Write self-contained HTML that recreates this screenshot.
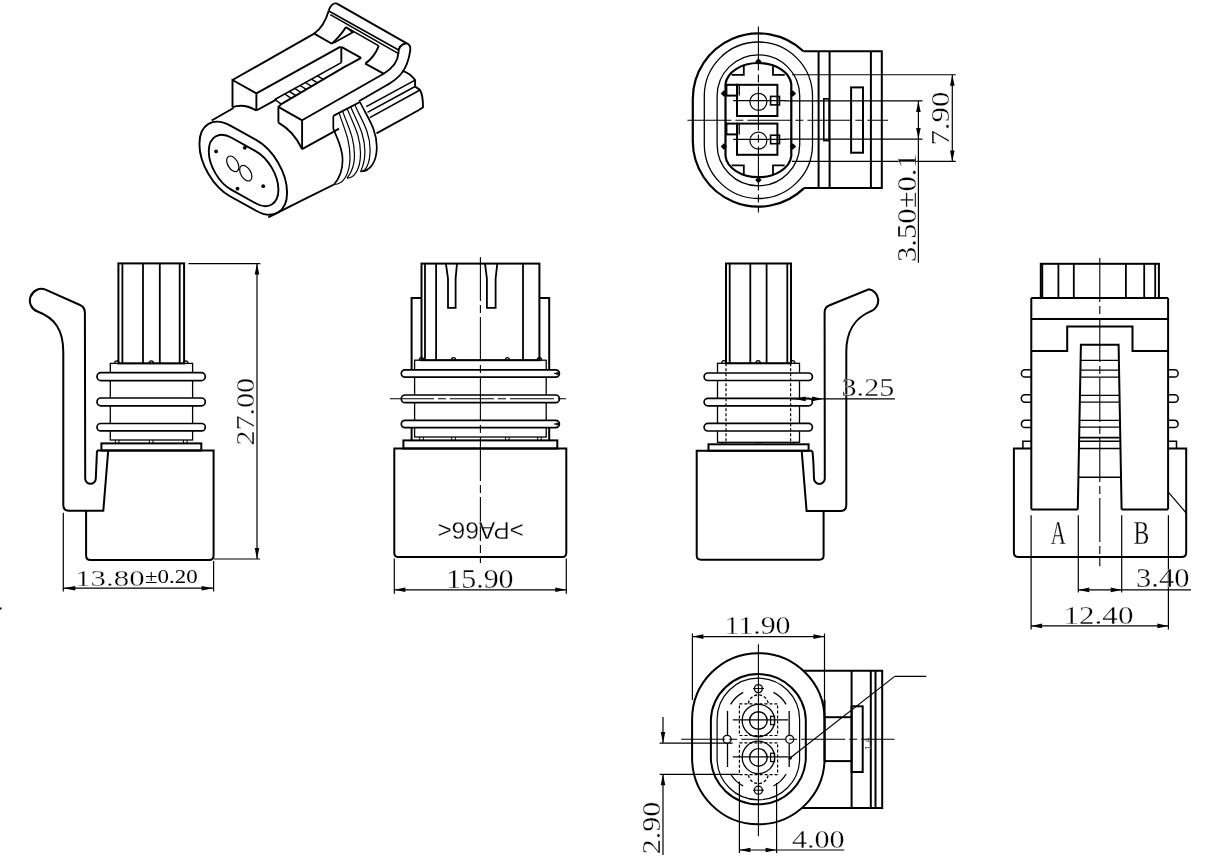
<!DOCTYPE html>
<html><head><meta charset="utf-8"><style>
html,body{margin:0;padding:0;background:#fff;}
svg{display:block;}
svg line, svg polyline, svg polygon, svg path, svg rect, svg circle, svg ellipse {stroke:#000;fill:none;stroke-linejoin:miter;stroke-miterlimit:4;stroke-linecap:butt;}
svg text{fill:#000;stroke:#fff;stroke-width:0.3px;}
svg{will-change:transform;}
svg .f{fill:#000;stroke:none;}
</style></head><body>
<svg width="1227" height="863" viewBox="0 0 1227 863">
<path d="M 84.9 313 Q 84.9 307 80 305 L 45.5 289.6 A 11.5 11.5 0 0 0 37.5 311.5 C 55 318 63.3 330 63.3 352 L 63.3 505 Q 63.3 510.8 69 510.8 L 103.3 510.8 L 108.2 450.6" stroke-width="2" />
<path d="M 84.9 313 L 85.2 478.5 A 5.3 5.3 0 0 0 95.8 478.5 L 97 450.6" stroke-width="2" />
<rect x="118.4" y="263.4" width="65.7" height="100" stroke-width="2" />
<line x1="122.4" y1="263.4" x2="122.4" y2="363.4" stroke-width="1.8" />
<line x1="143" y1="263.4" x2="143" y2="363.4" stroke-width="1.8" />
<line x1="159.8" y1="263.4" x2="159.8" y2="363.4" stroke-width="1.8" />
<line x1="179.7" y1="263.4" x2="179.7" y2="363.4" stroke-width="1.8" />
<path d="M 114.6 363.4 A 2.2 2.6 0 0 1 119 363.4" stroke-width="1.2" />
<path d="M 149.1 363.4 A 2.2 2.6 0 0 1 153.5 363.4" stroke-width="1.2" />
<path d="M 183.5 363.4 A 2.2 2.6 0 0 1 187.9 363.4" stroke-width="1.2" />
<rect x="110.3" y="363.4" width="82.3" height="76.6" stroke-width="1.3" />
<rect x="97" y="372.7" width="108.3" height="7.9" rx="4" stroke-width="1.7" style="fill:#fff"/>
<rect x="97" y="398" width="108.3" height="7.8" rx="3.9" stroke-width="1.7" style="fill:#fff"/>
<rect x="97" y="423.5" width="108.3" height="7.4" rx="3.7" stroke-width="1.7" style="fill:#fff"/>
<path d="M 115.2 440 L 115.7 443.4 M 119.2 440 L 118.7 443.4" stroke-width="1" />
<path d="M 149.2 440 L 149.7 443.4 M 153.2 440 L 152.7 443.4" stroke-width="1" />
<path d="M 183.3 440 L 183.8 443.4 M 187.3 440 L 186.8 443.4" stroke-width="1" />
<rect x="101.4" y="443.4" width="99.9" height="7.1" stroke-width="2" />
<path d="M 97 450.5 L 213.6 450.5 L 213.6 555.5 Q 213.6 560 209 560 L 90.5 560 Q 86.1 560 86.1 555.5 L 86.1 510.8" stroke-width="2" />
<line x1="63.3" y1="512.7" x2="63.3" y2="591.5" stroke-width="1.2" />
<line x1="213.6" y1="561" x2="213.6" y2="591.5" stroke-width="1.2" />
<line x1="63.3" y1="588.2" x2="213.6" y2="588.2" stroke-width="1.2" />
<polygon points="63.3,588.2 75.3,586 75.3,590.4" class="f"/>
<polygon points="213.6,588.2 201.6,590.4 201.6,586" class="f"/>
<line x1="188.5" y1="263.6" x2="260.3" y2="263.6" stroke-width="1.2" />
<line x1="214" y1="559" x2="260" y2="559" stroke-width="1.2" />
<line x1="257" y1="263.6" x2="257" y2="559" stroke-width="1.2" />
<polygon points="257,263.6 259.3,274.6 254.7,274.6" class="f"/>
<polygon points="257,559 254.7,548 259.3,548" class="f"/>
<rect x="421.5" y="263.6" width="117.9" height="96.6" stroke-width="2" />
<line x1="425" y1="263.6" x2="425" y2="360.2" stroke-width="1.8" />
<line x1="436.1" y1="263.6" x2="436.1" y2="360.2" stroke-width="1.8" />
<line x1="523" y1="263.6" x2="523" y2="360.2" stroke-width="1.8" />
<polyline points="445.9,263.6 448,278.6 448,307.8 455.6,307.8 455.6,278.6 457,263.6" stroke-width="1.8" />
<polyline points="485,263.6 486.9,278.6 486.9,307.8 495.6,307.8 495.6,278.6 497.3,263.6" stroke-width="1.8" />
<polyline points="421.5,298.1 411.6,298.1 411.6,371" stroke-width="2" />
<polyline points="539.4,298.1 549.2,298.1 549.2,371" stroke-width="2" />
<line x1="411.6" y1="426" x2="411.6" y2="440.4" stroke-width="2" />
<line x1="549.2" y1="426" x2="549.2" y2="440.4" stroke-width="2" />
<rect x="414.6" y="360.2" width="131.6" height="76.8" stroke-width="1.3" />
<path d="M 419.3 360.2 A 2.2 2.6 0 0 1 423.7 360.2" stroke-width="1.2" />
<path d="M 451.3 360.2 A 2.2 2.6 0 0 1 455.7 360.2" stroke-width="1.2" />
<path d="M 505.1 360.2 A 2.2 2.6 0 0 1 509.5 360.2" stroke-width="1.2" />
<path d="M 537.2 360.2 A 2.2 2.6 0 0 1 541.6 360.2" stroke-width="1.2" />
<path d="M 419.5 437 L 420 440.4 M 423.5 437 L 423 440.4" stroke-width="1" />
<path d="M 451.5 437 L 452 440.4 M 455.5 437 L 455 440.4" stroke-width="1" />
<path d="M 505.3 437 L 505.8 440.4 M 509.3 437 L 508.8 440.4" stroke-width="1" />
<path d="M 537.4 437 L 537.9 440.4 M 541.4 437 L 540.9 440.4" stroke-width="1" />
<rect x="401.3" y="369.8" width="158.1" height="7.3" rx="3.7" stroke-width="1.7" style="fill:#fff"/>
<rect x="401.3" y="395" width="158.1" height="7.7" rx="3.8" stroke-width="1.7" style="fill:#fff"/>
<rect x="401.3" y="420.3" width="158.1" height="7.3" rx="3.7" stroke-width="1.7" style="fill:#fff"/>
<line x1="554" y1="373.5" x2="560" y2="373.5" stroke-width="1.2" />
<polygon points="560.5,373.5 556.5,375.3 556.5,371.7" class="f"/>
<line x1="554" y1="424" x2="560" y2="424" stroke-width="1.2" />
<polygon points="560.5,424 556.5,425.8 556.5,422.2" class="f"/>
<rect x="403.4" y="440.4" width="153.9" height="8.1" stroke-width="2" />
<path d="M 394.3 448.5 L 566.3 448.5 L 566.3 553 Q 566.3 557.1 562 557.1 L 398.5 557.1 Q 394.3 557.1 394.3 553 Z" stroke-width="2" />
<line x1="480.4" y1="257" x2="480.4" y2="563" stroke-width="1.1" stroke-dasharray="44 4 8 4"/>
<line x1="389.9" y1="398.8" x2="569.2" y2="398.8" stroke-width="1.1" stroke-dasharray="44 4 8 4"/>
<line x1="394.3" y1="558.6" x2="394.3" y2="593.8" stroke-width="1.2" />
<line x1="566.3" y1="558.6" x2="566.3" y2="593.8" stroke-width="1.2" />
<line x1="394.3" y1="589.8" x2="566.3" y2="589.8" stroke-width="1.2" />
<polygon points="394.3,589.8 405.3,587.5 405.3,592.1" class="f"/>
<polygon points="566.3,589.8 555.3,592.1 555.3,587.5" class="f"/>
<rect x="726" y="263.5" width="65" height="99.8" stroke-width="2" />
<line x1="729.7" y1="263.5" x2="729.7" y2="363.3" stroke-width="1.8" />
<line x1="750.3" y1="263.5" x2="750.3" y2="363.3" stroke-width="1.8" />
<line x1="766.6" y1="263.5" x2="766.6" y2="363.3" stroke-width="1.8" />
<line x1="787.3" y1="263.5" x2="787.3" y2="363.3" stroke-width="1.8" />
<path d="M 721.8 363.3 A 2.2 2.6 0 0 1 726.2 363.3" stroke-width="1.2" />
<path d="M 755.9 363.3 A 2.2 2.6 0 0 1 760.3 363.3" stroke-width="1.2" />
<path d="M 790.5 363.3 A 2.2 2.6 0 0 1 794.9 363.3" stroke-width="1.2" />
<rect x="717.5" y="363.3" width="82" height="79" stroke-width="1.3" />
<rect x="704.1" y="373" width="108.3" height="7.5" rx="3.8" stroke-width="1.7" style="fill:#fff"/>
<rect x="704.1" y="398.4" width="108.3" height="7.4" rx="3.7" stroke-width="1.7" style="fill:#fff"/>
<rect x="704.1" y="423.4" width="108.3" height="7.6" rx="3.8" stroke-width="1.7" style="fill:#fff"/>
<line x1="726" y1="363.3" x2="726" y2="442.3" stroke-width="1.2" stroke-dasharray="3 2"/>
<line x1="790.6" y1="363.3" x2="790.6" y2="442.3" stroke-width="1.2" stroke-dasharray="3 2"/>
<path d="M 721.9 442.3 L 722.4 444.3 M 725.9 442.3 L 725.4 444.3" stroke-width="1" />
<path d="M 756.3 442.3 L 756.8 444.3 M 760.3 442.3 L 759.8 444.3" stroke-width="1" />
<path d="M 790.3 442.3 L 790.8 444.3 M 794.3 442.3 L 793.8 444.3" stroke-width="1" />
<rect x="708.5" y="444.3" width="100.1" height="6.5" stroke-width="2" />
<path d="M 812.3 450.8 L 696.7 450.8 L 696.7 555.5 Q 696.7 559.7 701 559.7 L 819.5 559.7 Q 823.6 559.7 823.6 555.5 L 823.6 511" stroke-width="2" />
<path d="M 824.6 313 Q 824.6 307 829 305.5 L 868.8 289.2 A 11.5 11.5 0 0 1 871 311.2 C 855 318 846.3 330 846.3 352 L 846.3 505 Q 846.3 511 840.5 511 L 806.6 511 L 801.7 450.8" stroke-width="2" />
<path d="M 824.6 313 L 824.8 478.5 A 5.4 5.4 0 0 1 814 478.5 L 813.5 465 Q 813 455 812.3 450.8" stroke-width="2" />
<line x1="790.8" y1="398.9" x2="894.9" y2="398.9" stroke-width="1.2" />
<polygon points="794.7,398.9 805.7,396.6 805.7,401.2" class="f"/>
<polygon points="823,398.9 812,401.2 812,396.6" class="f"/>
<rect x="1040.8" y="263.8" width="118.1" height="34.2" stroke-width="2" />
<line x1="1042.3" y1="263.8" x2="1042.3" y2="298" stroke-width="1.8" />
<line x1="1058.4" y1="263.8" x2="1058.4" y2="298" stroke-width="1.8" />
<line x1="1073.8" y1="263.8" x2="1073.8" y2="298" stroke-width="1.8" />
<line x1="1125.9" y1="263.8" x2="1125.9" y2="298" stroke-width="1.8" />
<line x1="1144.2" y1="263.8" x2="1144.2" y2="298" stroke-width="1.8" />
<line x1="1155.2" y1="263.8" x2="1155.2" y2="298" stroke-width="1.8" />
<line x1="1031.3" y1="298" x2="1168.1" y2="298" stroke-width="2" />
<line x1="1031.3" y1="298" x2="1031.3" y2="509.4" stroke-width="2" />
<line x1="1168.1" y1="298" x2="1168.1" y2="509.4" stroke-width="2" />
<line x1="1031.3" y1="319.1" x2="1168.1" y2="319.1" stroke-width="2" />
<polyline points="1031.3,351.1 1067.2,351.1 1067.2,326.4 1132.5,326.4 1132.5,351.1 1168.1,351.1" stroke-width="2" />
<polyline points="1077.8,509.4 1080.9,344.8 1118.6,344.8 1121.6,509.4" stroke-width="2" />
<line x1="1080.6" y1="360.4" x2="1118.9" y2="360.4" stroke-width="1.3" />
<line x1="1080.4" y1="370.2" x2="1119.1" y2="370.2" stroke-width="1.3" />
<line x1="1080.3" y1="377.1" x2="1119.2" y2="377.1" stroke-width="1.3" />
<line x1="1079.9" y1="395.3" x2="1119.5" y2="395.3" stroke-width="1.3" />
<line x1="1079.8" y1="402.2" x2="1119.6" y2="402.2" stroke-width="1.3" />
<line x1="1079.5" y1="420.3" x2="1120" y2="420.3" stroke-width="1.3" />
<line x1="1079.3" y1="427.2" x2="1120.1" y2="427.2" stroke-width="1.3" />
<line x1="1079.2" y1="437.6" x2="1120.3" y2="437.6" stroke-width="1.6" />
<line x1="1079.1" y1="441.2" x2="1120.4" y2="441.2" stroke-width="1.6" />
<line x1="1078.9" y1="448.5" x2="1120.5" y2="448.5" stroke-width="1.6" />
<line x1="1078.4" y1="477.3" x2="1121" y2="477.3" stroke-width="1.6" />
<line x1="1031.3" y1="509.4" x2="1077.8" y2="509.4" stroke-width="2" />
<line x1="1121.6" y1="509.4" x2="1168.1" y2="509.4" stroke-width="2" />
<path d="M 1031.3 369.8 L 1025 369.8 A 3.6 3.6 0 0 0 1025 377.1 L 1031.3 377.1" stroke-width="1.5" />
<path d="M 1168.1 369.8 L 1174.5 369.8 A 3.6 3.6 0 0 1 1174.5 377.1 L 1168.1 377.1" stroke-width="1.5" />
<path d="M 1031.3 394.8 L 1025 394.8 A 3.6 3.6 0 0 0 1025 402.2 L 1031.3 402.2" stroke-width="1.5" />
<path d="M 1168.1 394.8 L 1174.5 394.8 A 3.6 3.6 0 0 1 1174.5 402.2 L 1168.1 402.2" stroke-width="1.5" />
<path d="M 1031.3 420.3 L 1025 420.3 A 3.6 3.6 0 0 0 1025 427.5 L 1031.3 427.5" stroke-width="1.5" />
<path d="M 1168.1 420.3 L 1174.5 420.3 A 3.6 3.6 0 0 1 1174.5 427.5 L 1168.1 427.5" stroke-width="1.5" />
<polyline points="1031.3,441.2 1022.9,441.2 1022.9,448.5" stroke-width="1.5" />
<polyline points="1168.1,441.2 1176.5,441.2 1176.5,448.5" stroke-width="1.5" />
<path d="M 1031.3 448.4 L 1013.9 448.4 L 1013.9 552.5 Q 1013.9 557 1018.5 557 L 1181.5 557 Q 1186.2 557 1186.2 552.5 L 1186.2 448.4 L 1168.1 448.4" stroke-width="2" />
<line x1="1168.5" y1="492.3" x2="1186.2" y2="513" stroke-width="1.2" />
<line x1="1099.8" y1="258" x2="1099.8" y2="566.3" stroke-width="1.1" stroke-dasharray="44 4 8 4"/>
<line x1="1031.1" y1="515.2" x2="1031.1" y2="629.5" stroke-width="1.2" />
<line x1="1078.3" y1="515.2" x2="1078.3" y2="592.5" stroke-width="1.2" />
<line x1="1121.7" y1="515.2" x2="1121.7" y2="592.5" stroke-width="1.2" />
<line x1="1168.4" y1="515.2" x2="1168.4" y2="629.5" stroke-width="1.2" />
<line x1="1078.3" y1="589.9" x2="1191" y2="589.9" stroke-width="1.2" />
<polygon points="1078.3,589.9 1089.3,587.6 1089.3,592.2" class="f"/>
<polygon points="1121.7,589.9 1110.7,592.2 1110.7,587.6" class="f"/>
<line x1="1031.1" y1="625.9" x2="1168.4" y2="625.9" stroke-width="1.2" />
<polygon points="1031.1,625.9 1042.1,623.6 1042.1,628.2" class="f"/>
<polygon points="1168.4,625.9 1157.4,628.2 1157.4,623.6" class="f"/>
<path d="M 803.4 51.3 A 65.6 65.6 0 0 0 692.8 99 L 692.8 141 A 65.6 65.6 0 0 0 804.1 188.1" stroke-width="2.2" />
<path d="M 704.3 96.1 A 54.1 54.1 0 0 1 812.5 96.1 L 812.5 144.4 A 54.1 54.1 0 0 1 704.3 144.4 Z" stroke-width="1.3" />
<path d="M 717.1 96.1 A 41.3 41.3 0 0 1 799.7 96.1 L 799.7 144.5 A 41.3 41.3 0 0 1 717.1 144.5 Z" stroke-width="1.3" />
<path d="M 725.5 84.2 A 33 23 0 0 1 791.3 84.2 L 791.3 156 A 33 23 0 0 1 725.5 156 Z" stroke-width="2.2" />
<polyline points="743.8,64.7 743.8,74.9 731.6,74.9" stroke-width="1.8" />
<polyline points="773,64.7 773,74.9 784.7,74.9" stroke-width="1.8" />
<polyline points="743.8,175.5 743.8,165.3 731.6,165.3" stroke-width="1.8" />
<polyline points="773,175.5 773,165.3 784.7,165.3" stroke-width="1.8" />
<rect x="737" y="84.8" width="40.4" height="31.2" stroke-width="2" />
<rect x="726.4" y="84.8" width="10.8" height="10.8" stroke-width="2" />
<line x1="739.3" y1="84.8" x2="739.3" y2="95.6" stroke-width="1.2" />
<circle cx="758.4" cy="101.8" r="8.5" stroke-width="1.2" />
<rect x="770.6" y="96.4" width="8.9" height="8.5" stroke-width="1.6" />
<line x1="733.2" y1="100.6" x2="785.6" y2="100.6" stroke-width="1.2" />
<rect x="737" y="123.6" width="40.4" height="31.2" stroke-width="2" />
<rect x="726.4" y="123.6" width="10.8" height="10.8" stroke-width="2" />
<line x1="739.3" y1="123.6" x2="739.3" y2="134.4" stroke-width="1.2" />
<circle cx="758.4" cy="140.6" r="8.5" stroke-width="1.2" />
<rect x="770.6" y="135.2" width="8.9" height="8.5" stroke-width="1.6" />
<line x1="733.2" y1="139.4" x2="785.6" y2="139.4" stroke-width="1.2" />
<polygon points="758.4,58.3 761.6,61.5 758.4,64.7 755.2,61.5" class="f"/>
<polygon points="758.4,176.8 761.6,180 758.4,183.2 755.2,180" class="f"/>
<polygon points="723.9,90.3 727.1,93.5 723.9,96.7 720.7,93.5" class="f"/>
<polygon points="792.9,90.3 796.1,93.5 792.9,96.7 789.7,93.5" class="f"/>
<polygon points="723.9,143.3 727.1,146.5 723.9,149.7 720.7,146.5" class="f"/>
<polygon points="792.9,143.3 796.1,146.5 792.9,149.7 789.7,146.5" class="f"/>
<line x1="758.4" y1="26.5" x2="758.4" y2="212.4" stroke-width="1.1" stroke-dasharray="44 4 8 4"/>
<line x1="687.4" y1="120.2" x2="888" y2="120.2" stroke-width="1.1" stroke-dasharray="44 4 8 4"/>
<polyline points="803.4,51.3 881.8,51.3 881.8,188.1 804.1,188.1" stroke-width="2" />
<line x1="818.6" y1="51.3" x2="818.6" y2="188.1" stroke-width="2" />
<line x1="829.6" y1="51.3" x2="829.6" y2="188.1" stroke-width="2" />
<line x1="870.9" y1="51.3" x2="870.9" y2="188.1" stroke-width="2" />
<rect x="823.8" y="98.8" width="5.4" height="41.8" stroke-width="1.6" />
<rect x="851.1" y="87.4" width="11.9" height="65.3" stroke-width="2" />
<line x1="792" y1="74.8" x2="955.8" y2="74.8" stroke-width="1.1" />
<line x1="792" y1="161.4" x2="955.8" y2="161.4" stroke-width="1.1" />
<line x1="785" y1="100.9" x2="922.5" y2="100.9" stroke-width="1.1" />
<line x1="785" y1="139.1" x2="922.5" y2="139.1" stroke-width="1.1" />
<line x1="952.3" y1="74.8" x2="952.3" y2="161.4" stroke-width="1.2" />
<polygon points="952.3,74.8 954.6,85.8 950,85.8" class="f"/>
<polygon points="952.3,161.4 950,150.4 954.6,150.4" class="f"/>
<line x1="918.4" y1="100.9" x2="918.4" y2="262.7" stroke-width="1.2" />
<polygon points="918.4,100.9 920.7,111.9 916.1,111.9" class="f"/>
<polygon points="918.4,139.1 916.1,128.1 920.7,128.1" class="f"/>
<path d="M 692.1 719.4 A 66.2 66.2 0 0 1 824.6 719.4 L 824.6 758 A 66.2 66.2 0 0 1 692.1 758 Z" stroke-width="2.0" />
<path d="M 710.9 719.4 A 47.5 47.5 0 0 1 805.8 719.4 L 805.8 759 A 47.5 47.5 0 0 1 710.9 759 Z" stroke-width="2.0" />
<path d="M 717.1 719.4 A 41.2 41.2 0 0 1 799.6 719.4 L 799.6 758.6 A 41.2 41.2 0 0 1 717.1 758.6 Z" stroke-width="1.2" />
<path d="M 730.6 704.4 A 31 31 0 0 1 743.2 692.4" stroke-width="1.3" />
<path d="M 773.5 692.4 A 31 31 0 0 1 786.1 704.4" stroke-width="1.3" />
<path d="M 730.6 774 A 31 31 0 0 0 743.2 786" stroke-width="1.3" />
<path d="M 773.5 786 A 31 31 0 0 0 786.1 774" stroke-width="1.3" />
<line x1="727.5" y1="711" x2="727.5" y2="735" stroke-width="1.3" />
<line x1="727.5" y1="744" x2="727.5" y2="767" stroke-width="1.3" />
<line x1="789.2" y1="711" x2="789.2" y2="735" stroke-width="1.3" />
<line x1="789.2" y1="744" x2="789.2" y2="767" stroke-width="1.3" />
<path d="M 748.4 703.5 A 10 10 0 0 1 768.2 703.5" stroke-width="1.3" stroke-dasharray="3 2"/>
<path d="M 748.4 775 A 10 10 0 0 0 768.2 775" stroke-width="1.3" stroke-dasharray="3 2"/>
<circle cx="758.4" cy="688.6" r="4" stroke-width="1.3" />
<circle cx="758.4" cy="790.2" r="4" stroke-width="1.3" />
<circle cx="727.1" cy="739.3" r="4" stroke-width="1.3" />
<circle cx="789.7" cy="739.3" r="4" stroke-width="1.3" />
<line x1="753" y1="688.6" x2="764" y2="688.6" stroke-width="1" />
<line x1="753" y1="790.2" x2="764" y2="790.2" stroke-width="1" />
<circle cx="758.4" cy="720.5" r="16.2" stroke-width="1.3" />
<circle cx="758.4" cy="720.5" r="8.8" stroke-width="1.4" />
<rect x="770.6" y="716.3" width="4" height="8.4" stroke-width="1.2" />
<line x1="732.8" y1="719.9" x2="788" y2="719.9" stroke-width="1.2" />
<circle cx="758.4" cy="757.4" r="16.2" stroke-width="1.3" />
<circle cx="758.4" cy="757.4" r="8.8" stroke-width="1.4" />
<rect x="770.6" y="753.2" width="4" height="8.4" stroke-width="1.2" />
<line x1="732.8" y1="756.8" x2="788" y2="756.8" stroke-width="1.2" />
<rect x="739.4" y="703.8" width="38.2" height="31.7" stroke-width="1.2" stroke-dasharray="3 2"/>
<rect x="739.4" y="742.8" width="38.2" height="31.8" stroke-width="1.2" stroke-dasharray="3 2"/>
<line x1="758.4" y1="644.2" x2="758.4" y2="836.3" stroke-width="1.1" />
<line x1="681.2" y1="739.3" x2="894.6" y2="739.3" stroke-width="1.1" stroke-dasharray="44 4 8 4"/>
<polyline points="803.3,670.7 882.2,670.7 882.2,808 801.8,808" stroke-width="2" />
<line x1="851.6" y1="670.7" x2="851.6" y2="808" stroke-width="2" />
<line x1="870.8" y1="670.7" x2="870.8" y2="808" stroke-width="2" />
<line x1="875.5" y1="670.7" x2="875.5" y2="808" stroke-width="2" />
<polyline points="824.5,717.2 851.6,717.2" stroke-width="2" />
<polyline points="824.5,761.1 851.6,761.1" stroke-width="2" />
<line x1="824.5" y1="700" x2="824.5" y2="761.1" stroke-width="2" />
<rect x="851.6" y="706.3" width="11.1" height="65.7" stroke-width="2" />
<line x1="790.1" y1="758" x2="894.7" y2="676.4" stroke-width="1.2" />
<line x1="894.7" y1="676.4" x2="926.2" y2="676.4" stroke-width="1.2" />
<circle cx="790.1" cy="758" r="1.8" class="f"/>
<line x1="692.4" y1="633.5" x2="692.4" y2="700" stroke-width="1.2" />
<line x1="824.5" y1="633.5" x2="824.5" y2="718" stroke-width="1.2" />
<line x1="692.4" y1="636.6" x2="824.5" y2="636.6" stroke-width="1.2" />
<polygon points="692.4,636.6 703.4,634.3 703.4,638.9" class="f"/>
<polygon points="824.5,636.6 813.5,638.9 813.5,634.3" class="f"/>
<line x1="659.6" y1="743.1" x2="732.7" y2="743.1" stroke-width="1.2" />
<line x1="659.6" y1="774.3" x2="739.4" y2="774.3" stroke-width="1.2" />
<line x1="663" y1="717" x2="663" y2="743.1" stroke-width="1.2" />
<polygon points="663,743.1 660.7,732.1 665.3,732.1" class="f"/>
<line x1="663" y1="774.3" x2="663" y2="855" stroke-width="1.2" />
<polygon points="663,774.3 665.3,785.3 660.7,785.3" class="f"/>
<line x1="739.4" y1="781.4" x2="739.4" y2="853" stroke-width="1.2" />
<line x1="776.6" y1="783" x2="776.6" y2="853" stroke-width="1.2" />
<line x1="739.4" y1="850" x2="844.3" y2="850" stroke-width="1.2" />
<polygon points="739.4,850 750.4,847.7 750.4,852.3" class="f"/>
<polygon points="776.6,850 765.6,852.3 765.6,847.7" class="f"/>
<rect x="0" y="607.5" width="1.5" height="2" class="f"/>
<text x="870.5" y="750" font-family="Liberation Sans" font-size="9" transform="rotate(-90 870.5 750)" style="fill:#444;stroke:none">1  A</text>
<text x="75.20" y="585.60" font-family="Liberation Serif" font-size="23.95" textLength="69.40" lengthAdjust="spacingAndGlyphs">13.80</text>
<text x="145.00" y="583.00" font-family="Liberation Serif" font-size="18.13" textLength="52.60" lengthAdjust="spacingAndGlyphs" style="stroke:none">±0.20</text>
<text x="254.20" y="445.60" font-family="Liberation Serif" font-size="25.32" textLength="67.80" lengthAdjust="spacingAndGlyphs" transform="rotate(-90 254.20 445.60)">27.00</text>
<text x="446.20" y="587.80" font-family="Liberation Serif" font-size="27.13" textLength="67.40" lengthAdjust="spacingAndGlyphs">15.90</text>
<text x="841.60" y="396.00" font-family="Liberation Serif" font-size="25.32" textLength="52.60" lengthAdjust="spacingAndGlyphs">3.25</text>
<text x="1136.00" y="587.00" font-family="Liberation Serif" font-size="26.27" textLength="53.40" lengthAdjust="spacingAndGlyphs">3.40</text>
<text x="1063.60" y="623.60" font-family="Liberation Serif" font-size="25.00" textLength="69.80" lengthAdjust="spacingAndGlyphs">12.40</text>
<text x="949.20" y="145.60" font-family="Liberation Serif" font-size="24.33" textLength="54.20" lengthAdjust="spacingAndGlyphs" transform="rotate(-90 949.20 145.60)">7.90</text>
<text x="916.40" y="262.00" font-family="Liberation Serif" font-size="27.41" textLength="108.80" lengthAdjust="spacingAndGlyphs" transform="rotate(-90 916.40 262.00)">3.50±0.1</text>
<text x="724.40" y="634.40" font-family="Liberation Serif" font-size="26.21" textLength="66.20" lengthAdjust="spacingAndGlyphs">11.90</text>
<text x="660.20" y="854.20" font-family="Liberation Serif" font-size="25.32" textLength="52.60" lengthAdjust="spacingAndGlyphs" transform="rotate(-90 660.20 854.20)">2.90</text>
<text x="792.00" y="848.20" font-family="Liberation Serif" font-size="26.21" textLength="52.60" lengthAdjust="spacingAndGlyphs">4.00</text>
<text x="524.00" y="522.20" font-family="Liberation Sans" font-size="23.21" textLength="86.60" lengthAdjust="spacingAndGlyphs" transform="rotate(180 524.00 522.20)">&gt;PA66&lt;</text>
<text x="1050.80" y="543.80" font-family="Liberation Serif" font-size="33.46" textLength="15.00" lengthAdjust="spacingAndGlyphs">A</text>
<text x="1133.60" y="543.80" font-family="Liberation Serif" font-size="33.46" textLength="15.80" lengthAdjust="spacingAndGlyphs">B</text>
<polyline points="232.5,107.2 232.5,80 256.4,93.4 256.4,110.5" stroke-width="1.9" />
<line x1="232.5" y1="80" x2="314.2" y2="33.6" stroke-width="1.9" />
<line x1="256.4" y1="93.4" x2="340.6" y2="46.7" stroke-width="1.9" />
<path d="M 232.5 107.2 Q 244 103 256.4 110.5" stroke-width="1.9" />
<line x1="256.4" y1="110.5" x2="276.7" y2="99.4" stroke-width="1.9" />
<line x1="211.7" y1="120.5" x2="233.5" y2="108" stroke-width="1.9" />
<path d="M 314.2 33.6 C 322 28 326 20 328.8 10.4" stroke-width="1.9" />
<path d="M 328.8 10.4 Q 331 3.5 336.1 3.1" stroke-width="1.9" />
<line x1="336.1" y1="3.1" x2="405.9" y2="42.8" stroke-width="1.9" />
<path d="M 405.9 42.8 Q 411 44.5 410.3 50 C 409 60 406 68 401 74 C 396 80 392 82 387 85 L 358.9 101.3" stroke-width="1.9" />
<line x1="328.8" y1="11" x2="398.6" y2="50" stroke-width="1.6" />
<path d="M 398.4 53.6 C 398.2 48 401 44 406.5 43.2" stroke-width="1.9" />
<line x1="330.3" y1="14.6" x2="398.1" y2="53.4" stroke-width="1.6" />
<line x1="314.2" y1="33.6" x2="331.9" y2="43.8" stroke-width="1.9" />
<path d="M 331.9 43.8 C 338 38 343 32 346 27.1" stroke-width="1.9" />
<line x1="346" y1="27.1" x2="378.8" y2="45.9" stroke-width="1.6" />
<polyline points="346,27.1 352.8,32.3 334,42.8" stroke-width="1.6" />
<path d="M 378.8 45.9 C 376 53 372 59 365.3 63.6" stroke-width="1.9" />
<line x1="365.3" y1="63.6" x2="383.6" y2="73.7" stroke-width="1.9" />
<path d="M 398.4 53 C 398 60 393 68 383.6 73.7" stroke-width="1.9" />
<line x1="341.3" y1="46.9" x2="341.3" y2="62.6" stroke-width="1.9" />
<line x1="341.3" y1="46.9" x2="361.1" y2="57.9" stroke-width="1.9" />
<line x1="361.1" y1="57.9" x2="347.1" y2="65.6" stroke-width="1.9" />
<line x1="341.3" y1="62.6" x2="274.8" y2="99.5" stroke-width="1.6" />
<line x1="347.1" y1="65.4" x2="281.3" y2="104.1" stroke-width="1.9" />
<line x1="274.8" y1="99.5" x2="281.3" y2="104.1" stroke-width="1.5" />
<line x1="284.8" y1="94" x2="291.2" y2="98.3" stroke-width="1.4" />
<line x1="289.4" y1="91.4" x2="295.8" y2="95.6" stroke-width="1.4" />
<line x1="294.8" y1="88.4" x2="301" y2="92.5" stroke-width="1.4" />
<line x1="300.1" y1="85.5" x2="306.3" y2="89.4" stroke-width="1.4" />
<line x1="305.4" y1="82.5" x2="311.6" y2="86.3" stroke-width="1.4" />
<line x1="311.4" y1="79.2" x2="317.5" y2="82.8" stroke-width="1.4" />
<line x1="317.4" y1="75.9" x2="323.4" y2="79.3" stroke-width="1.4" />
<polyline points="281.3,104.1 278.4,106.9 278.4,122.6" stroke-width="1.9" />
<line x1="278.4" y1="106.9" x2="302.1" y2="120.3" stroke-width="1.9" />
<line x1="302.1" y1="120.3" x2="302.1" y2="149.2" stroke-width="1.9" />
<path d="M 278.4 122.6 C 288 128 297 138 302.1 149.2" stroke-width="1.9" />
<line x1="302.1" y1="149.2" x2="333.4" y2="131.8" stroke-width="1.9" />
<line x1="302.1" y1="120.3" x2="383.6" y2="73.7" stroke-width="1.9" />
<path d="M 333.3 115.9 L 333.3 128.6 C 337.5 139.6 342.6 147.4 342.6 159.9 C 342.6 174.7 336.1 182.0 334.0 184.5" stroke-width="1.7" />
<path d="M 339.1 112.9 C 344.0 128.4 350.0 139.4 350.0 157.1 C 350.0 173.5 343.6 184.5 334.0 184.5" stroke-width="1.2" />
<path d="M 342.6 111.1 C 348.0 126.6 354.5 137.7 354.5 155.4 C 354.5 169.1 348.9 175.7 347.0 178.2" stroke-width="1.2" />
<path d="M 347.2 108.6 C 353.2 124.2 360.5 135.4 360.5 153.2 C 360.5 168.2 355.1 178.2 347.0 178.2" stroke-width="1.2" />
<path d="M 350.7 106.8 C 357.1 122.5 364.9 133.7 364.9 151.6 C 364.9 163.5 361.7 169.0 360.6 171.5" stroke-width="1.2" />
<path d="M 354.8 104.7 C 361.7 120.4 370.1 131.7 370.1 149.6 C 370.1 162.7 366.3 171.5 360.6 171.5" stroke-width="1.2" />
<path d="M 360.0 102.0 C 367.6 117.8 376.8 129.1 376.8 147.1 C 376.8 161.7 370.3 171.5 360.6 171.5" stroke-width="1.7" />
<line x1="333.3" y1="115.9" x2="360" y2="102" stroke-width="1.9" />
<path d="M 402.3 70.8 Q 410 73 415.1 80.1 L 415.1 86.5 L 420 90 Q 423 95 423 107.2 L 419 110" stroke-width="1.9" />
<line x1="415.1" y1="80.1" x2="366.3" y2="106.6" stroke-width="1.6" />
<line x1="415.1" y1="86.5" x2="367.5" y2="112.4" stroke-width="1.6" />
<line x1="420" y1="90" x2="369.8" y2="117.6" stroke-width="1.6" />
<line x1="419" y1="110" x2="376.5" y2="133.4" stroke-width="1.9" />
<line x1="333.4" y1="131.8" x2="339" y2="128.7" stroke-width="1.9" />
<g transform="matrix(0.875 0.485 0 1 243.25 168.2)"><rect x="-50.1" y="-35.4" width="100.2" height="70.8" rx="35.4" vector-effect="non-scaling-stroke" stroke-width="1.9"/></g>
<g transform="matrix(0.875 0.485 0 1 243.6 170.5)"><rect x="-39.8" y="-26.1" width="79.6" height="52.2" rx="26.1" vector-effect="non-scaling-stroke" stroke-width="1.9"/></g>
<g transform="matrix(0.875 0.485 0 1 232.8 163.8)"><circle cx="0" cy="0" r="7" vector-effect="non-scaling-stroke" stroke-width="1.2"/></g>
<g transform="matrix(0.875 0.485 0 1 245.8 173.2)"><circle cx="0" cy="0" r="7" vector-effect="non-scaling-stroke" stroke-width="1.2"/></g>
<circle cx="216.1" cy="151.4" r="1.9" class="f"/>
<circle cx="244.8" cy="147.8" r="1.9" class="f"/>
<circle cx="237.5" cy="188.7" r="1.9" class="f"/>
<circle cx="263.2" cy="186.2" r="1.9" class="f"/>
<line x1="268.3" y1="217.4" x2="300" y2="201.4" stroke-width="1.9" />
<line x1="300" y1="201.4" x2="334" y2="184.5" stroke-width="1.9" />
</svg></body></html>
